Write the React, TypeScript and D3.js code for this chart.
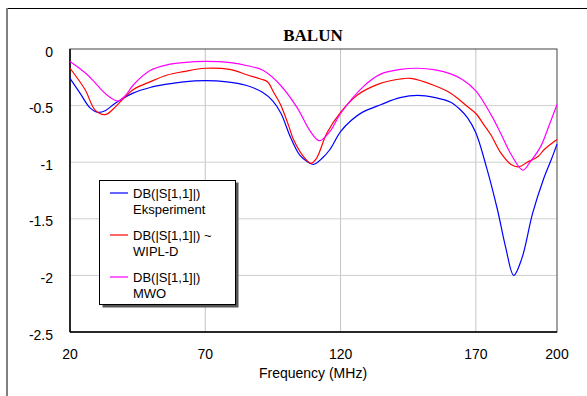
import React from "react";
import * as d3 from "d3";

// frequency (MHz), dB
const experimentData: [number, number][] = [
  [20, -0.26], [23.7, -0.39], [27.4, -0.52], [30.4, -0.56], [33, -0.545],
  [36.7, -0.48], [43.3, -0.39], [49.6, -0.34], [55.9, -0.31], [61.9, -0.29],
  [70, -0.28], [78, -0.29], [85, -0.32], [91, -0.38], [95, -0.46],
  [98, -0.57], [101.5, -0.78], [105, -0.94], [108, -1.0], [110, -1.02],
  [113, -0.97], [116, -0.89], [120, -0.73], [124, -0.63], [128, -0.56],
  [135, -0.49], [142, -0.43], [148.5, -0.41], [155, -0.43], [160.7, -0.47],
  [164, -0.53], [167, -0.61], [170, -0.74], [174, -1.05], [178, -1.42],
  [181, -1.75], [184, -2.0], [187, -1.85], [191, -1.45], [195, -1.15],
  [198, -0.97], [200, -0.84],
];

const wiplData: [number, number][] = [
  [20, -0.17], [25.6, -0.36], [29.3, -0.54], [33, -0.58], [36, -0.53],
  [39.3, -0.45], [43.3, -0.36], [49.6, -0.29], [55.9, -0.23], [61.9, -0.2],
  [70, -0.17], [79, -0.18], [85.6, -0.23], [90.4, -0.265], [93, -0.29],
  [95.2, -0.38], [97.8, -0.49], [100.7, -0.67], [102.6, -0.8], [106.3, -0.95],
  [109, -1.01], [111, -0.97], [115, -0.74], [120, -0.56], [126, -0.41],
  [134, -0.31], [142, -0.265], [146, -0.26], [154.4, -0.32], [160.7, -0.39],
  [167, -0.51], [170, -0.57], [173, -0.67], [175.6, -0.76], [179.3, -0.92],
  [183, -1.02], [186, -1.04], [189, -1.0], [193, -0.95], [195.2, -0.89],
  [200, -0.8],
];

const mwoData: [number, number][] = [
  [20, -0.11], [25.6, -0.21], [29, -0.29], [32, -0.37], [35, -0.43],
  [37.8, -0.46], [40.5, -0.41], [43.3, -0.32], [49.6, -0.19], [55.9, -0.14],
  [61.9, -0.12], [70, -0.11], [79.3, -0.12], [86, -0.15], [91.5, -0.19],
  [97.8, -0.32], [104, -0.52], [108.9, -0.73], [112.2, -0.81], [116.3, -0.72],
  [120, -0.57], [128.5, -0.33], [135, -0.22], [142.2, -0.18], [148.5, -0.17],
  [155, -0.185], [160.7, -0.22], [165, -0.27], [170, -0.37], [175.6, -0.58],
  [179.3, -0.75], [183, -0.93], [187.4, -1.07], [190, -1.0], [194, -0.86],
  [197, -0.68], [200, -0.49],
];

const xTicks = [20, 70, 120, 170, 200];
const yTicks = [0, -0.5, -1, -1.5, -2, -2.5];

const series = [
  { name: ["DB(|S[1,1]|)", "Eksperiment"], color: "#0000ff", data: experimentData },
  { name: ["DB(|S[1,1]|) ~", "WIPL-D"], color: "#ff0000", data: wiplData },
  { name: ["DB(|S[1,1]|)", "MWO"], color: "#ff00ff", data: mwoData },
];

const W = 587;
const H = 396;
const plot = { left: 70, right: 557, top: 49, bottom: 332 };

export default function App() {
  const x = d3.scaleLinear().domain([20, 200]).range([plot.left, plot.right]);
  const y = d3.scaleLinear().domain([0, -2.5]).range([plot.top, plot.bottom]);

  const line = d3
    .line<[number, number]>()
    .x((d) => x(d[0]))
    .y((d) => y(d[1]))
    .curve(d3.curveCatmullRom.alpha(0.5));

  const font = "Arial, 'Liberation Sans', sans-serif";

  return (
    <svg
      width={W}
      height={H}
      style={{ position: "absolute", left: 0, top: 0, background: "#fff" }}
    >
      {/* outer frame */}
      <line x1={7} y1={8.5} x2={W} y2={8.5} stroke="#000" strokeWidth={1.2} />
      <line x1={7} y1={8} x2={7} y2={H} stroke="#808080" strokeWidth={2} />

      <text
        x={313}
        y={41}
        textAnchor="middle"
        fontFamily="'Times New Roman', 'Liberation Serif', serif"
        fontWeight="bold"
        fontSize={17}
      >
        BALUN
      </text>

      {/* grid */}
      {xTicks
        .filter((t) => t !== 20 && t !== 200)
        .map((t) => (
          <line key={"gx" + t} x1={x(t)} x2={x(t)} y1={plot.top} y2={plot.bottom} stroke="#c4c4c4" strokeWidth={1} />
        ))}
      {yTicks
        .filter((t) => t !== 0 && t !== -2.5)
        .map((t) => (
          <line key={"gy" + t} x1={plot.left} x2={plot.right} y1={y(t)} y2={y(t)} stroke="#d0d0d0" strokeWidth={1} />
        ))}

      {/* plot border */}
      <rect
        x={plot.left}
        y={plot.top}
        width={plot.right - plot.left}
        height={plot.bottom - plot.top}
        fill="none"
        stroke="#444"
        strokeWidth={1}
      />
      <line x1={plot.left} x2={plot.left} y1={plot.top} y2={plot.bottom} stroke="#000" strokeWidth={1.5} />
      <line x1={plot.left} x2={plot.right} y1={plot.bottom} y2={plot.bottom} stroke="#000" strokeWidth={1.5} />

      {/* curves */}
      {series.map((s, i) => (
        <path key={i} d={line(s.data) || ""} fill="none" stroke={s.color} strokeWidth={1.2} />
      ))}

      {/* y ticks */}
      {yTicks.map((t) => (
        <text key={"ty" + t} x={53} y={y(t) + 7.5} textAnchor="end" fontFamily={font} fontSize={14}>
          {t === 0 ? "0" : String(t)}
        </text>
      ))}
      {/* x ticks */}
      {xTicks.map((t) => (
        <text key={"tx" + t} x={x(t)} y={359} textAnchor="middle" fontFamily={font} fontSize={14}>
          {t}
        </text>
      ))}
      <text x={313} y={378} textAnchor="middle" fontFamily={font} fontSize={14}>
        Frequency (MHz)
      </text>

      {/* legend */}
      <rect x={102.5} y={182.5} width={136} height={125} fill="#555" />
      <rect x={99.5} y={180.5} width={136} height={124} fill="#fff" stroke="#000" strokeWidth={1} />
      {series.map((s, i) => {
        const ly = 193 + i * 42;
        return (
          <g key={"lg" + i}>
            <line x1={110} x2={128} y1={ly} y2={ly} stroke={s.color} strokeWidth={1.2} />
            <text x={133} y={ly + 5} fontFamily={font} fontSize={13}>
              {s.name[0]}
            </text>
            <text x={133} y={ly + 21} fontFamily={font} fontSize={13}>
              {s.name[1]}
            </text>
          </g>
        );
      })}
    </svg>
  );
}
